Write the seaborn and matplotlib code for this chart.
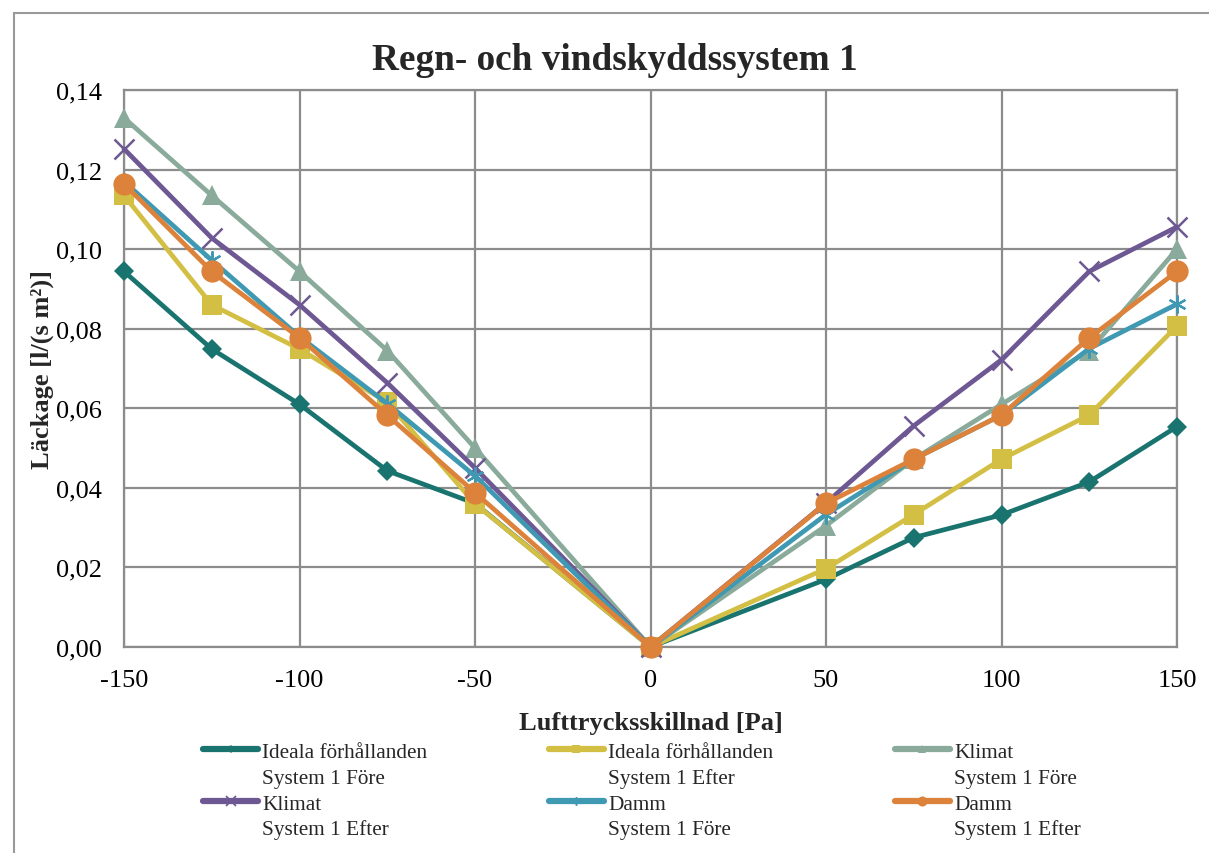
import matplotlib
matplotlib.use("Agg")
import matplotlib.pyplot as plt
from matplotlib.lines import Line2D
from matplotlib.patches import Rectangle
import numpy as np
import pandas as pd
import seaborn as sns

# Pressure difference steps [Pa]
pressure = [-150, -125, -100, -75, -50, 0, 50, 75, 100, 125, 150]

# Leakage [l/(s m2)] per test series
ideal_fore = [0.0944, 0.0749, 0.0610, 0.0443, 0.0361, 0.0, 0.0170, 0.0275, 0.0332, 0.0415, 0.0554]
ideal_efter = [0.1135, 0.0860, 0.0749, 0.0615, 0.0360, 0.0, 0.0197, 0.0333, 0.0472, 0.0583, 0.0807]
klimat_fore = [0.1330, 0.1135, 0.0944, 0.0745, 0.0500, 0.0, 0.0305, 0.0472, 0.0610, 0.0745, 0.1000]
klimat_efter = [0.1252, 0.1028, 0.0860, 0.0664, 0.0450, 0.0, 0.0362, 0.0556, 0.0722, 0.0944, 0.1056]
damm_fore = [0.1170, 0.0972, 0.0780, 0.0612, 0.0430, 0.0, 0.0333, 0.0472, 0.0583, 0.0750, 0.0862]
damm_efter = [0.1164, 0.0944, 0.0777, 0.0583, 0.0388, 0.0, 0.0361, 0.0472, 0.0583, 0.0777, 0.0944]

series_names = ["Ideala förhållanden", "Ideala förhållanden", "Klimat",
                "Klimat", "Damm", "Damm"]
series_sub = ["System 1 Före", "System 1 Efter", "System 1 Före",
              "System 1 Efter", "System 1 Före", "System 1 Efter"]
series_values = [ideal_fore, ideal_efter, klimat_fore, klimat_efter, damm_fore, damm_efter]

y_ticks = [0.00, 0.02, 0.04, 0.06, 0.08, 0.10, 0.12, 0.14]
x_ticks = [-150, -100, -50, 0, 50, 100, 150]

title = "Regn- och vindskyddssystem 1"
x_label = "Lufttrycksskillnad [Pa]"
y_label = "Läckage [l/(s m²)]"

# Styling
colors = ["#19736f", "#d2bf43", "#8aab9b", "#6e5893", "#3f99b2", "#dd823b"]
markers = ["D", "s", "^", "x", (6, 2, 0), "o"]
msizes = [10, 14, 14, 15, 13, 16]
medges = [0, 0, 0, 1.8, 1.6, 0]

sns.set_style("white")
plt.rcParams["font.family"] = ["Liberation Serif", "DejaVu Serif"]
plt.rcParams["axes.unicode_minus"] = False

fig = plt.figure(figsize=(12.09, 8.54), dpi=100)
ax = fig.add_axes([124 / 1209, 1 - 648 / 854, (1177 - 124) / 1209, (648 - 91) / 854])

grid_col = "#8c8c8c"
handles = []
for name, sub, vals, c, m, ms, mew in zip(series_names, series_sub, series_values,
                                            colors, markers, msizes, medges):
    df = pd.DataFrame({"p": pressure, "v": vals})
    sns.lineplot(data=df, x="p", y="v", ax=ax, color=c, linewidth=3.4,
                 marker=m, markersize=ms, markeredgewidth=mew,
                 markeredgecolor=c, markerfacecolor=c, clip_on=False,
                 legend=False, zorder=3)
    handles.append(Line2D([], [], color=c, linewidth=4.5, marker=m,
                          markersize=ms * 0.45, markeredgewidth=mew * 0.7,
                          markeredgecolor=c, markerfacecolor=c,
                          solid_capstyle="round"))

ax.set_xlim(-150, 150)
ax.set_ylim(0, 0.14)
ax.set_xticks(x_ticks)
ax.set_xticklabels([str(v) for v in x_ticks])
ax.set_yticks(y_ticks)
ax.set_yticklabels([f"{v:.2f}".replace(".", ",") for v in y_ticks])
ax.tick_params(axis="both", labelsize=19, colors="black", length=7,
               width=1.5, direction="out")
ax.tick_params(axis="y", pad=9)
ax.tick_params(axis="x", pad=9)
for t in ax.get_xticklines() + ax.get_yticklines():
    t.set_color(grid_col)

ax.grid(True, color=grid_col, linewidth=1.6)
ax.set_axisbelow(True)
for s in ax.spines.values():
    s.set_color(grid_col)
    s.set_linewidth(1.6)

ax.set_xlabel(x_label, fontsize=19, fontweight="bold", labelpad=14)
ax.set_ylabel(y_label, fontsize=19, fontweight="bold", labelpad=1)
fig.text(615 / 1209, 1 - 60 / 854, title, fontsize=26.8, fontweight="bold",
         ha="center", va="center")

# Legend: three columns, each entry with its subtitle on the row below
blank = Line2D([], [], linestyle="none", marker=None)
leg_handles, leg_labels = [], []
order_cols = [[0, 3], [1, 4], [2, 5]]
for col in order_cols:
    for i in col:
        leg_handles += [handles[i], blank]
        leg_labels += [series_names[i], series_sub[i]]
leg = fig.legend(leg_handles, leg_labels, ncol=3, loc="upper left",
                 bbox_to_anchor=(203 / 1209, 1 - 743 / 854), frameon=False,
                 fontsize=15.3, handlelength=2.6, handletextpad=0.2,
                 columnspacing=5.7, labelspacing=0.28, borderaxespad=0,
                 borderpad=0)

# Outer chart frame
fig.patches.append(Rectangle((14 / 1209, -0.1), 1.2, (854 - 14) / 854 + 0.1,
                             transform=fig.transFigure, fill=False,
                             edgecolor="#999999", linewidth=1.5))

fig.savefig("out.png", dpi=100)
